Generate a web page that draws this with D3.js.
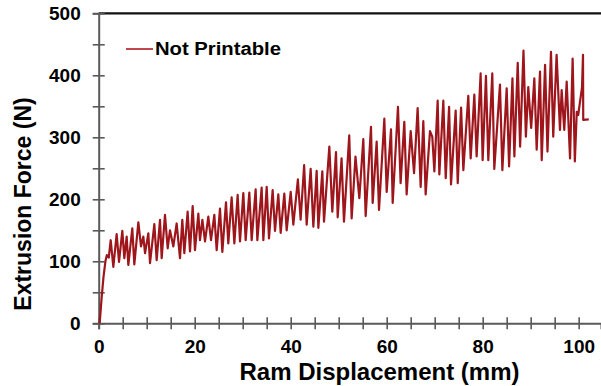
<!DOCTYPE html>
<html><head><meta charset="utf-8">
<script src="https://cdn.jsdelivr.net/npm/d3@7"></script>
<style>
html,body{margin:0;padding:0;background:#fff;}
svg{display:block;font-family:"Liberation Sans",Arial,sans-serif;}
</style></head>
<body>
<svg id="c" width="601" height="386"></svg>
<script>
// Data: displacement (mm), force (N)
const seriesName = "Not Printable";
const displacement = [0.2,0.6,1.0,1.4,1.7,2.1,2.5,3.05,3.74,4.23,4.92,5.34,5.83,6.17,7.0,7.42,8.26,8.81,9.3,9.65,10.34,10.69,11.59,12.08,12.77,13.12,13.81,14.37,14.85,15.55,16.24,16.94,17.42,17.84,18.53,19.02,19.58,20.06,20.76,21.1,21.6,22.15,22.84,23.4,24.09,24.58,25.27,25.76,26.52,27.0,27.7,28.26,28.95,29.44,30.13,30.62,31.38,31.87,32.7,33.05,33.95,34.3,35.0,35.48,36.24,36.73,37.42,37.91,38.67,39.16,40.0,40.55,41.5,42.07,42.8,43.33,44.16,44.72,45.41,45.76,46.59,46.94,48.05,48.67,49.44,49.79,50.6,51.1,52.2,52.7,53.5,54.3,55.13,55.62,56.73,57.08,57.91,58.4,59.51,60.0,60.9,61.25,62.35,62.9,63.67,64.16,65.0,65.7,66.45,67.08,67.63,68.12,69.02,69.5,69.93,70.62,70.97,71.8,72.3,73.0,73.4,74.37,74.8,75.5,75.97,77.0,77.5,78.26,78.74,79.57,79.99,80.68,81.17,82.0,82.42,83.6,84.1,85.0,85.5,86.2,86.6,87.3,87.8,88.5,89.0,89.5,90.1,90.76,91.25,91.94,92.3,93.0,93.5,94.23,94.7,95.4,96.1,96.45,97.0,97.5,98.2,98.74,99.2,99.6,99.9,100.7,100.9,100.95,102.1];
const force = [0,40,75,100,110,106,134,91,144,99,149,105,140,94,153,95,163,124,140,113,145,97,160,102,167,105,175,121,150,124,161,105,167,113,180,116,189,118,177,134,167,132,172,134,175,118,185,115,195,129,203,129,207,132,210,134,211,134,216,134,219,134,220,137,215,149,208,146,209,150,212,159,232,167,255,159,249,156,246,154,245,164,285,180,276,171,266,164,303,169,269,202,297,173,317,194,293,183,330,212,313,194,349,226,325,208,310,242,347,220,326,208,310,301,245,359,240,359,234,349,224,343,226,348,247,367,266,369,269,403,263,399,263,403,249,385,247,379,253,395,269,420,285,440,301,381,315,395,280,406,263,417,277,438,301,433,312,376,312,390,266,427,261,341,336,381,433,328,329];
const xTicks = [0,20,40,60,80,100];
const yTicks = [0,100,200,300,400,500];
const xMinor = [0,5,10,15,20,25,30,35,40,45,50,55,60,65,70,75,80,85,90,95,100];
const yMinor = [0,50,100,150,200,250,300,350,400,450,500];

const data = displacement.map((d,i)=>({x:d,y:force[i]}));
const svg = d3.select("#c");
const x = d3.scaleLinear().domain([0,104.65]).range([98.7,601]);
const y = d3.scaleLinear().domain([0,500]).range([323.3,13.3]);
const axisCol = "#5a5a5a";
const ff = "'Liberation Sans',Arial,sans-serif";

// top frame line
svg.append("line").attr("x1",x(0)).attr("x2",601).attr("y1",y(500)).attr("y2",y(500))
  .attr("stroke","#111").attr("stroke-width",2.2);

// x axis ticks (crossing the axis line)
const gx = svg.append("g").attr("transform",`translate(0,${y(0)})`)
  .call(d3.axisBottom(x).tickValues(xMinor).tickSize(6).tickFormat(""));
gx.select(".domain").attr("stroke",axisCol).attr("stroke-width",2);
gx.selectAll(".tick line").attr("y1",-6).attr("y2",6).attr("stroke",axisCol).attr("stroke-width",1.6);
const gxl = svg.append("g").attr("transform",`translate(0,${y(0)})`)
  .call(d3.axisBottom(x).tickValues(xTicks).tickSize(0).tickPadding(16));
gxl.select(".domain").remove();
gxl.selectAll("text").attr("font-size",19).attr("font-weight","bold").attr("fill","#000")
  .attr("font-family",ff);

const gy = svg.append("g").attr("transform",`translate(${x(0)},0)`)
  .call(d3.axisLeft(y).tickValues(yMinor).tickSize(6).tickFormat(""));
gy.select(".domain").attr("stroke",axisCol).attr("stroke-width",2);
gy.selectAll(".tick line").attr("x1",-6).attr("x2",6).attr("stroke",axisCol).attr("stroke-width",1.6);
const gyl = svg.append("g").attr("transform",`translate(${x(0)},0)`)
  .call(d3.axisLeft(y).tickValues(yTicks).tickSize(0).tickPadding(18));
gyl.select(".domain").remove();
gyl.selectAll("text").attr("font-size",19).attr("font-weight","bold").attr("fill","#000")
  .attr("font-family",ff);

// data line
svg.append("path").datum(data)
  .attr("fill","none").attr("stroke","#9e161c").attr("stroke-width",2.2)
  .attr("stroke-linejoin","round")
  .attr("d",d3.line().x(d=>x(d.x)).y(d=>y(d.y)));

// legend
svg.append("line").attr("x1",126).attr("x2",153).attr("y1",49).attr("y2",49)
  .attr("stroke","#b01a1f").attr("stroke-width",1.6);
svg.append("text").attr("x",155).attr("y",55).attr("font-size",18).attr("font-weight","bold")
  .attr("textLength",126).attr("lengthAdjust","spacingAndGlyphs")
  .text(seriesName);

// axis titles
svg.append("text").attr("x",379.5).attr("y",379.5).attr("text-anchor","middle")
  .attr("font-size",24).attr("font-weight","bold").text("Ram Displacement (mm)");
svg.append("text").attr("transform","translate(31,204) rotate(-90)").attr("text-anchor","middle")
  .attr("font-size",23).attr("font-weight","bold").text("Extrusion Force (N)");
</script>
</body></html>
